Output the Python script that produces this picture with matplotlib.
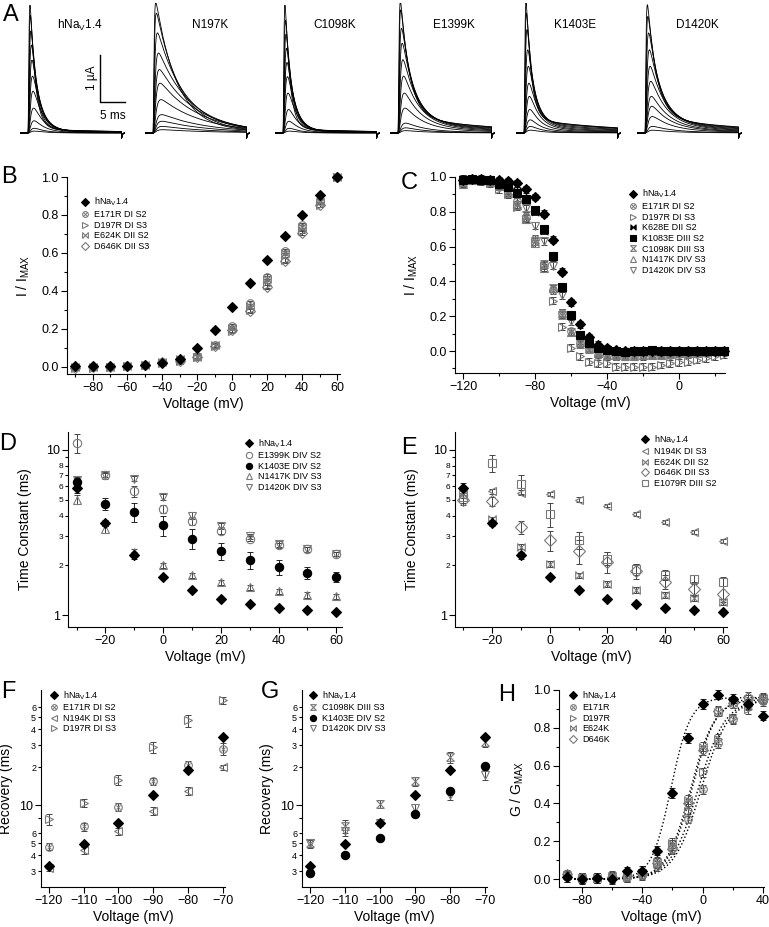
import numpy as np
import matplotlib.pyplot as plt
from matplotlib.ticker import FixedLocator, FixedFormatter, MultipleLocator, FormatStrFormatter, NullFormatter

plt.rcParams['font.family'] = ['Liberation Sans', 'DejaVu Sans']
plt.rcParams['mathtext.fontset'] = 'custom'
plt.rcParams['mathtext.rm'] = 'Liberation Sans'
plt.rcParams['mathtext.it'] = 'Liberation Sans'

W, H = 769, 927
HNAV = 'hNa$_\\mathrm{V}$1.4'

# ---------------- data ----------------
# A: current families (peak amplitudes in uA, decay tau of biggest trace in ms, slow fraction)
trace_names = [HNAV, 'N197K', 'C1098K', 'E1399K', 'K1403E', 'D1420K']
trace_peaks = [
    [2.72, 2.5, 2.17, 1.87, 1.55, 1.21, 0.89, 0.53, 0.26, 0.1, 0.04],
    [2.77, 2.55, 2.13, 1.70, 1.35, 1.06, 0.71, 0.39, 0.25, 0.14, 0.07],
    [2.72, 2.4, 2.1, 1.8, 1.5, 1.2, 0.85, 0.5, 0.25, 0.1, 0.04],
    [2.80, 2.62, 2.23, 1.91, 1.56, 1.21, 0.85, 0.53, 0.21, 0.11, 0.05],
    [2.77, 2.55, 2.2, 1.77, 1.42, 1.06, 0.78, 0.5, 0.28, 0.14, 0.06],
    [2.73, 2.48, 2.13, 1.77, 1.42, 1.1, 0.78, 0.57, 0.35, 0.14, 0.06],
]
trace_tau = [1.0, 4.2, 0.95, 1.8, 1.0, 1.8]
trace_slow = [0.02, 0.03, 0.02, 0.10, 0.07, 0.10]

# B: activation
volt_B = [-90, -80, -70, -60, -50, -40, -30, -20, -10, 0, 10, 20, 30, 40, 50, 60]
B_hNav = [0.005, 0.003, 0.006, 0.006, 0.012, 0.022, 0.042, 0.10, 0.195, 0.315, 0.44, 0.565, 0.688, 0.80, 0.905, 1.0]
B_E171R = [0.0, 0.0, 0.0, 0.005, 0.01, 0.025, 0.035, 0.06, 0.115, 0.215, 0.335, 0.475, 0.61, 0.745, 0.875, 1.0]
B_D197R = [-0.005, -0.003, 0.0, 0.003, 0.01, 0.02, 0.03, 0.055, 0.11, 0.19, 0.30, 0.43, 0.565, 0.715, 0.855, 1.0]
B_E624K = [0.0, 0.0, 0.0, 0.004, 0.012, 0.028, 0.04, 0.05, 0.115, 0.205, 0.32, 0.465, 0.60, 0.735, 0.87, 1.0]
B_D646K = [-0.005, 0.0, 0.002, 0.005, 0.01, 0.025, 0.03, 0.05, 0.11, 0.195, 0.295, 0.42, 0.56, 0.705, 0.855, 1.0]
B_err = 0.012

# C: steady-state inactivation
volt_C = list(range(-120, 30, 5))
C_hNav = [0.98, 0.99, 0.99, 0.985, 0.98, 0.975, 0.965, 0.93, 0.885, 0.79, 0.64, 0.455, 0.28, 0.155, 0.08, 0.035,
          0.015, 0.005, 0.0, 0.0, 0.0, 0.0, 0.0, 0.0, 0.0, 0.0, 0.0, 0.0, 0.0, 0.0]
C_E171R = [0.98, 0.985, 0.98, 0.975, 0.96, 0.93, 0.86, 0.77, 0.645, 0.5, 0.35, 0.22, 0.115, 0.045, 0.01, -0.02,
           -0.02, -0.03, -0.03, -0.03, -0.025, -0.025, -0.02, -0.02, -0.015, -0.015, -0.01, -0.01, -0.005, -0.005]
C_D197R = [0.97, 0.98, 0.975, 0.965, 0.93, 0.9, 0.83, 0.76, 0.62, 0.49, 0.29, 0.14, 0.02, -0.03, -0.06, -0.07,
           -0.07, -0.09, -0.09, -0.09, -0.09, -0.09, -0.08, -0.07, -0.065, -0.06, -0.05, -0.04, -0.03, -0.02]
C_K628E = [0.99, 0.99, 0.985, 0.98, 0.97, 0.95, 0.92, 0.87, 0.80, 0.69, 0.54, 0.36, 0.2, 0.09, 0.04, 0.015,
           0.005, 0.0, -0.005, -0.005, -0.005, 0.0, 0.0, 0.0, 0.0, 0.0, 0.0, 0.0, 0.0, 0.0]
C_K1083E = [0.985, 0.99, 0.985, 0.98, 0.96, 0.94, 0.91, 0.875, 0.81, 0.70, 0.545, 0.37, 0.205, 0.095, 0.045, 0.02,
            0.005, 0.0, -0.005, 0.0, 0.0, 0.005, 0.0, 0.0, 0.0, 0.0, 0.0, 0.0, 0.0, 0.0]
C_C1098K = [0.97, 0.985, 0.98, 0.97, 0.95, 0.92, 0.84, 0.78, 0.63, 0.5, 0.36, 0.21, 0.11, 0.04, 0.01, -0.01,
            -0.02, -0.02, -0.02, -0.02, -0.02, -0.015, -0.015, -0.01, -0.01, -0.01, -0.005, -0.005, 0.0, 0.0]
C_N1417K = [0.96, 0.98, 0.98, 0.97, 0.95, 0.91, 0.84, 0.76, 0.62, 0.48, 0.36, 0.22, 0.11, 0.05, 0.015, -0.01,
            -0.02, -0.025, -0.03, -0.03, -0.025, -0.02, -0.02, -0.015, -0.01, -0.01, -0.01, -0.005, 0.0, 0.0]
C_D1420K = [0.97, 0.98, 0.98, 0.975, 0.96, 0.94, 0.9, 0.82, 0.72, 0.63, 0.49, 0.32, 0.17, 0.06, 0.02, -0.01,
            -0.02, -0.03, -0.03, -0.03, -0.03, -0.025, -0.02, -0.02, -0.015, -0.01, -0.01, -0.005, 0.0, 0.0]
C_err = 0.02

# D, E: inactivation time constants
volt_DE = [-30, -20, -10, 0, 10, 20, 30, 40, 50, 60]
tau_hNav = [5.9, 3.6, 2.3, 1.7, 1.42, 1.26, 1.17, 1.11, 1.08, 1.05]
tau_hNav_err = [0.4, 0.15, 0.1, 0.05, 0.04, 0.03, 0.03, 0.02, 0.02, 0.02]
tau_E1399K = [11.0, 7.0, 5.6, 4.4, 3.7, 3.25, 2.9, 2.65, 2.5, 2.35]
tau_E1399K_err = [1.4, 0.3, 0.4, 0.25, 0.2, 0.15, 0.1, 0.1, 0.08, 0.06]
tau_K1403E = [6.4, 4.7, 4.2, 3.5, 2.9, 2.45, 2.15, 1.95, 1.8, 1.7]
tau_K1403E_err = [0.35, 0.4, 0.55, 0.5, 0.4, 0.3, 0.25, 0.2, 0.15, 0.12]
tau_N1417K = [5.0, 3.3, 2.4, 2.0, 1.75, 1.58, 1.48, 1.4, 1.33, 1.3]
tau_N1417K_err = [0.3, 0.15, 0.1, 0.08, 0.06, 0.05, 0.05, 0.05, 0.05, 0.04]
tau_D1420K = [6.6, 7.0, 6.7, 5.2, 4.0, 3.45, 3.0, 2.7, 2.5, 2.35]
tau_D1420K_err = [0.2, 0.2, 0.2, 0.2, 0.2, 0.15, 0.12, 0.1, 0.08, 0.06]
tau_N194K = [5.3, 5.6, 5.5, 5.4, 5.0, 4.6, 4.1, 3.65, 3.2, 2.8]
tau_N194K_err = [0.2, 0.2, 0.2, 0.15, 0.15, 0.12, 0.1, 0.1, 0.08, 0.08]
tau_E624K = [5.5, 3.8, 2.6, 2.05, 1.75, 1.55, 1.42, 1.33, 1.27, 1.2]
tau_E624K_err = [0.2, 0.1, 0.1, 0.08, 0.06, 0.06, 0.06, 0.06, 0.05, 0.05]
tau_D646K = [5.0, 4.9, 3.4, 2.85, 2.45, 2.1, 1.85, 1.6, 1.45, 1.35]
tau_D646K_err = [0.35, 0.3, 0.3, 0.4, 0.4, 0.3, 0.2, 0.15, 0.15, 0.15]
tau_E1079R = [5.2, 8.3, 6.2, 4.1, 2.85, 2.2, 1.9, 1.75, 1.65, 1.6]
tau_E1079R_err = [0.4, 1.0, 0.8, 0.7, 0.35, 0.2, 0.15, 0.12, 0.1, 0.1]

# F, G: recovery from inactivation
volt_FG = [-120, -110, -100, -90, -80, -70]
rec_hNav = [3.3, 4.9, 7.3, 12.0, 19.0, 35.0]
rec_E171R = [4.7, 6.8, 9.7, 15.5, 21.0, 28.0]
rec_E171R_err = [0.3, 0.5, 0.7, 1.0, 1.5, 3.0]
rec_N194K = [3.2, 4.4, 6.2, 9.0, 13.0, 20.0]
rec_N194K_err = [0.2, 0.3, 0.4, 0.7, 1.0, 1.0]
rec_D197R = [7.8, 10.5, 16.0, 29.0, 47.0, 68.0]
rec_D197R_err = [0.8, 0.8, 1.5, 3.0, 5.0, 4.0]
rec_C1098K = [5.0, 6.8, 10.3, 15.5, 24.0, 32.0]
rec_C1098K_err = [0.4, 0.8, 0.8, 1.2, 2.5, 3.0]
rec_K1403E = [2.9, 4.0, 5.5, 8.6, 13.0, 20.5]
rec_D1420K = [5.0, 6.2, 7.3, 9.6, 12.0, 17.5]
rec_D1420K_err = [0.3, 0.5, 0.5, 0.7, 1.0, 1.5]

# H: conductance-voltage with Boltzmann fits
volt_H = [-90, -80, -70, -60, -50, -40, -30, -20, -10, 0, 10, 20, 30, 40]
G_hNav = [0.01, 0.0, 0.005, 0.0, 0.04, 0.045, 0.15, 0.455, 0.745, 0.925, 0.975, 0.955, 0.925, 0.865]
G_E171R = [0.01, 0.005, 0.005, 0.005, 0.01, 0.02, 0.07, 0.165, 0.32, 0.475, 0.72, 0.845, 0.92, 0.94]
G_D197R = [0.02, 0.005, 0.005, 0.01, 0.01, 0.03, 0.085, 0.18, 0.36, 0.565, 0.74, 0.85, 0.90, 0.955]
G_E624K = [0.02, 0.005, 0.005, 0.015, 0.02, 0.03, 0.09, 0.19, 0.42, 0.70, 0.885, 0.93, 0.95, 0.96]
G_D646K = [0.025, 0.005, 0.005, 0.01, 0.015, 0.025, 0.085, 0.16, 0.40, 0.68, 0.89, 0.93, 0.965, 0.95]
G_err = 0.025
# Boltzmann fit parameters: (V1/2, slope k, Gmax)
fit_hNav = (-21.0, 6.5, 0.96)
fit_E171R = (-1.0, 9.0, 0.95)
fit_D197R = (-3.0, 9.0, 0.95)
fit_E624K = (-8.0, 8.0, 0.95)
fit_D646K = (-7.0, 8.0, 0.96)

# ---------------- helpers ----------------
GRAY = '#7a7a7a'
BOW = [(-1, -1), (1, 1), (1, -1), (-1, 1), (-1, -1)]
HOUR = [(-1, -1), (1, -1), (-1, 1), (1, 1), (-1, -1)]
KIND = {
    'hnav': ('k', 'D', True, 5.2),
    'otimes': (GRAY, 'o', False, 5.5),
    'tri_r': (GRAY, '>', False, 5.5),
    'bow': (GRAY, BOW, False, 5.5),
    'diam_o': (GRAY, 'D', False, 5.0),
    'bow_f': ('k', BOW, True, 5.0),
    'sq_f': ('k', 's', True, 5.5),
    'hour': (GRAY, HOUR, False, 5.5),
    'tri_u': (GRAY, '^', False, 6.0),
    'tri_d': (GRAY, 'v', False, 6.0),
    'circ_o': (GRAY, 'o', False, 6.0),
    'circ_f': ('k', 'o', True, 6.0),
    'tri_l': (GRAY, '<', False, 5.5),
    'sq_o': (GRAY, 's', False, 6.0),
}

fig = plt.figure(figsize=(W / 100, H / 100), dpi=100)


def px_axes(l, t, r, b):
    return fig.add_axes([l / W, 1 - b / H, (r - l) / W, (b - t) / H])


def style(ax):
    for s in ['top', 'right']:
        ax.spines[s].set_visible(False)
    for s in ['left', 'bottom']:
        ax.spines[s].set_linewidth(0.8)
    ax.tick_params(direction='out', length=4, width=0.8, labelsize=9, pad=2)
    ax.tick_params(which='minor', direction='out', length=2.5, width=0.8)


def plot_set(ax, x, y, kind, err=None, ms=None):
    color, marker, filled, size = KIND[kind]
    if ms is None:
        ms = size
    if err is not None:
        ax.errorbar(x, y, yerr=err, fmt='none', ecolor='#222222' if filled else '#444444',
                    elinewidth=0.7, capsize=2, capthick=0.7, zorder=2, clip_on=False)
    h = ax.plot(x, y, ls='none', marker=marker, ms=ms, mec=color, mew=0.8,
                mfc=color if filled else 'none', clip_on=False, zorder=3)[0]
    if kind == 'otimes':
        h2 = ax.plot(x, y, ls='none', marker='x', ms=ms * 0.55, mec=color, mew=0.7,
                     clip_on=False, zorder=3)[0]
        return (h, h2)
    return h


def legend(ax, handles, labels, x, y):
    ax.legend(handles, labels, loc='upper left', bbox_to_anchor=(x / W, 1 - y / H),
              bbox_transform=fig.transFigure, frameon=False, fontsize=6.5, handlelength=1.0,
              handletextpad=0.6, labelspacing=0.18, borderpad=0, borderaxespad=0,
              markerscale=0.75, numpoints=1)


def letter(s, x, y):
    fig.text(x / W, 1 - y / H, s, fontsize=17, ha='center', va='center')


# ---------------- A: current traces ----------------
t = np.linspace(-1.6, 19.4, 1500)
t_end = 18.7
step_px = [28, 153, 283, 398, 524, 645]
title_px = [80, 210, 335, 454, 575, 697]
for i in range(6):
    ax = px_axes(step_px[i] - 8, 3, step_px[i] + 97, 140)
    ax.set_xlim(-1.6, 19.4)
    ax.set_ylim(-0.149, 2.766)
    ax.axis('off')
    amax = max(trace_peaks[i])
    for A in trace_peaks[i]:
        r = 1 - A / amax
        tm = 0.12 + 0.35 * r
        th = trace_tau[i] * (1 + 1.3 * r)
        tt = np.clip(t, 0, None)
        act = (1 - np.exp(-tt / tm)) ** 3
        y = act * ((1 - trace_slow[i]) * np.exp(-tt / th) + trace_slow[i] * np.exp(-tt / 18.0))
        y = y / y.max() * A
        y[t <= 0] = 0
        after = t > t_end
        y[after] = -0.12 * np.exp(-(t[after] - t_end) / 0.15)
        ax.plot(t, y, color='k', lw=0.6)
    fig.text(title_px[i] / W, 1 - 25 / H, trace_names[i], fontsize=8.5, ha='center', va='center')
    if i == 0:
        ax.plot([14.4, 14.4, 19.4], [1.66, 0.66, 0.66], color='k', lw=1.0, clip_on=False)
        ax.text(12.9, 1.17, '1 µA', rotation=90, fontsize=8.5, ha='center', va='center')
        ax.text(17.0, 0.36, '5 ms', fontsize=8.5, ha='center', va='center')
letter('A', 11, 15)

# ---------------- B ----------------
ax = px_axes(67, 177, 340, 374)
style(ax)
hB = [plot_set(ax, volt_B, B_D646K, 'diam_o', B_err),
      plot_set(ax, volt_B, B_E624K, 'bow', B_err),
      plot_set(ax, volt_B, B_D197R, 'tri_r', B_err),
      plot_set(ax, volt_B, B_E171R, 'otimes', B_err),
      plot_set(ax, volt_B, B_hNav, 'hnav')]
ax.set_xlim(-94.6, 61.7)
ax.set_ylim(-0.037, 1.0)
ax.xaxis.set_major_locator(MultipleLocator(20))
ax.xaxis.set_minor_locator(MultipleLocator(10))
ax.yaxis.set_major_locator(MultipleLocator(0.2))
ax.yaxis.set_minor_locator(MultipleLocator(0.1))
ax.yaxis.set_major_formatter(FormatStrFormatter('%.1f'))
ax.set_xlabel('Voltage (mV)', fontsize=10, labelpad=2)
ax.set_ylabel('I / I$_{\\mathrm{MAX}}$', fontsize=10, labelpad=7)
legend(ax, hB[::-1], [HNAV, 'E171R DI S2', 'D197R DI S3', 'E624K DII S2', 'D646K DII S3'], 80, 196)
letter('B', 9, 177)

# ---------------- C ----------------
ax = px_axes(455, 177, 725, 373)
style(ax)
hC = [plot_set(ax, volt_C, C_D1420K, 'tri_d', C_err),
      plot_set(ax, volt_C, C_N1417K, 'tri_u', C_err),
      plot_set(ax, volt_C, C_C1098K, 'hour', C_err),
      plot_set(ax, volt_C, C_D197R, 'tri_r', C_err),
      plot_set(ax, volt_C, C_E171R, 'otimes', C_err),
      plot_set(ax, volt_C, C_K628E, 'bow_f', C_err),
      plot_set(ax, volt_C, C_K1083E, 'sq_f', C_err),
      plot_set(ax, volt_C, C_hNav, 'hnav', C_err)]
ax.set_xlim(-124.5, 25.5)
ax.set_ylim(-0.126, 1.0)
ax.xaxis.set_major_locator(FixedLocator([-120, -80, -40, 0]))
ax.xaxis.set_minor_locator(FixedLocator([-100, -60, -20, 20]))
ax.yaxis.set_major_locator(MultipleLocator(0.2))
ax.yaxis.set_minor_locator(MultipleLocator(0.1))
ax.yaxis.set_major_formatter(FormatStrFormatter('%.1f'))
ax.set_xlabel('Voltage (mV)', fontsize=10, labelpad=2)
ax.set_ylabel('I / I$_{\\mathrm{MAX}}$', fontsize=10, labelpad=7)
legend(ax, [hC[7], hC[4], hC[3], hC[5], hC[6], hC[2], hC[1], hC[0]],
       [HNAV, 'E171R DI S2', 'D197R DI S3', 'K628E DII S2', 'K1083E DIII S2',
        'C1098K DIII S3', 'N1417K DIV S3', 'D1420K DIV S3'], 628, 188)
letter('C', 409, 183)


def log_axis_DE(ax):
    ax.set_yscale('log')
    ax.set_ylim(0.85, 12.8)
    ax.yaxis.set_major_locator(FixedLocator([1, 10]))
    ax.yaxis.set_major_formatter(FixedFormatter(['1', '10']))
    ax.yaxis.set_minor_locator(FixedLocator([2, 3, 4, 5, 6, 7, 8, 9]))
    ax.yaxis.set_minor_formatter(FixedFormatter(['2', '3', '4', '5', '6', '7', '8', '']))
    ax.tick_params(axis='y', which='minor', labelsize=6, pad=1)
    ax.xaxis.set_major_locator(MultipleLocator(20))
    ax.xaxis.set_minor_locator(MultipleLocator(10))
    ax.set_xlabel('Voltage (mV)', fontsize=10, labelpad=2)
    ax.set_ylabel('Time Constant (ms)', fontsize=10, labelpad=10)


# ---------------- D ----------------
ax = px_axes(68, 432, 342, 627)
style(ax)
hD = [plot_set(ax, volt_DE, tau_D1420K, 'tri_d', tau_D1420K_err),
      plot_set(ax, volt_DE, tau_N1417K, 'tri_u', tau_N1417K_err),
      plot_set(ax, volt_DE, tau_E1399K, 'circ_o', tau_E1399K_err),
      plot_set(ax, volt_DE, tau_K1403E, 'circ_f', tau_K1403E_err),
      plot_set(ax, volt_DE, tau_hNav, 'hnav', tau_hNav_err, ms=5.6)]
ax.set_xlim(-33, 62)
log_axis_DE(ax)
legend(ax, [hD[4], hD[2], hD[3], hD[1], hD[0]],
       [HNAV, 'E1399K DIV S2', 'K1403E DIV S2', 'N1417K DIV S3', 'D1420K DIV S3'], 244, 437)
letter('D', 8, 444)

# ---------------- E ----------------
ax = px_axes(455, 432, 727, 627)
style(ax)
hE = [plot_set(ax, volt_DE, tau_E1079R, 'sq_o', tau_E1079R_err),
      plot_set(ax, volt_DE, tau_D646K, 'diam_o', tau_D646K_err, ms=6.0),
      plot_set(ax, volt_DE, tau_E624K, 'bow', tau_E624K_err),
      plot_set(ax, volt_DE, tau_N194K, 'tri_l', tau_N194K_err),
      plot_set(ax, volt_DE, tau_hNav, 'hnav', tau_hNav_err, ms=5.6)]
ax.set_xlim(-32.8, 61.4)
log_axis_DE(ax)
legend(ax, hE[::-1], [HNAV, 'N194K DI S3', 'E624K DII S2', 'D646K DII S3', 'E1079R DIII S2'], 640, 433)
letter('E', 409, 448)


def log_axis_FG(ax):
    ax.set_yscale('log')
    ax.set_ylim(2.25, 82)
    ax.set_xlim(-122.3, -69.3)
    ax.yaxis.set_major_locator(FixedLocator([10]))
    ax.yaxis.set_major_formatter(FixedFormatter(['10']))
    ax.yaxis.set_minor_locator(FixedLocator([3, 4, 5, 6, 8, 20, 30, 40, 50, 60]))
    ax.yaxis.set_minor_formatter(FixedFormatter(['3', '4', '5', '6', '', '2', '3', '4', '5', '6']))
    ax.tick_params(axis='y', which='minor', labelsize=6.5, pad=1)
    ax.xaxis.set_major_locator(MultipleLocator(10))
    ax.xaxis.set_minor_formatter(NullFormatter())
    ax.set_xlabel('Voltage (mV)', fontsize=10, labelpad=2)
    ax.set_ylabel('Recovery (ms)', fontsize=10, labelpad=4)


# ---------------- F ----------------
ax = px_axes(41, 690, 225, 887)
style(ax)
hF = [plot_set(ax, volt_FG, rec_D197R, 'tri_r', rec_D197R_err),
      plot_set(ax, volt_FG, rec_N194K, 'tri_l', rec_N194K_err),
      plot_set(ax, volt_FG, rec_E171R, 'otimes', rec_E171R_err),
      plot_set(ax, volt_FG, rec_hNav, 'hnav', ms=5.6)]
log_axis_FG(ax)
legend(ax, hF[::-1], [HNAV, 'E171R DI S2', 'N194K DI S3', 'D197R DI S3'], 49, 689)
letter('F', 8, 692)

# ---------------- G ----------------
ax = px_axes(302, 690, 487, 887)
style(ax)
hG = [plot_set(ax, volt_FG, rec_D1420K, 'tri_d', rec_D1420K_err),
      plot_set(ax, volt_FG, rec_C1098K, 'hour', rec_C1098K_err),
      plot_set(ax, volt_FG, rec_K1403E, 'circ_f'),
      plot_set(ax, volt_FG, rec_hNav, 'hnav', ms=5.6)]
log_axis_FG(ax)
legend(ax, [hG[3], hG[1], hG[2], hG[0]], [HNAV, 'C1098K DIII S3', 'K1403E DIV S2', 'D1420K DIV S3'], 308, 689)
letter('G', 270, 692)

# ---------------- H ----------------
ax = px_axes(559, 690, 764, 887)
style(ax)
vfit = np.linspace(-90, 40, 300)
for vh, k, gmax in [fit_hNav, fit_E171R, fit_D197R, fit_E624K, fit_D646K]:
    ax.plot(vfit, gmax / (1 + np.exp((vh - vfit) / k)), color='k', ls=':', lw=1.0, zorder=1)
hH = [plot_set(ax, volt_H, G_D646K, 'diam_o', G_err),
      plot_set(ax, volt_H, G_E624K, 'bow', G_err),
      plot_set(ax, volt_H, G_D197R, 'tri_r', G_err),
      plot_set(ax, volt_H, G_E171R, 'otimes', G_err),
      plot_set(ax, volt_H, G_hNav, 'hnav', G_err, ms=5.6)]
ax.set_xlim(-95.2, 40.7)
ax.set_ylim(-0.042, 1.0)
ax.xaxis.set_major_locator(MultipleLocator(40))
ax.xaxis.set_minor_locator(MultipleLocator(20))
ax.yaxis.set_major_locator(MultipleLocator(0.2))
ax.yaxis.set_minor_locator(MultipleLocator(0.1))
ax.yaxis.set_major_formatter(FormatStrFormatter('%.1f'))
ax.set_xlabel('Voltage (mV)', fontsize=10, labelpad=2)
ax.set_ylabel('G / G$_{\\mathrm{MAX}}$', fontsize=10, labelpad=5)
legend(ax, hH[::-1], [HNAV, 'E171R', 'D197R', 'E624K', 'D646K'], 568, 689)
letter('H', 507, 695)

fig.savefig('out.png', dpi=100)
